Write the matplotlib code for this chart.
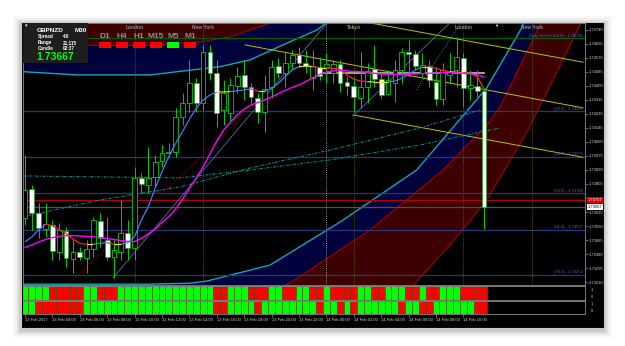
import numpy as np
import matplotlib
matplotlib.use("Agg")
import matplotlib.pyplot as plt
from matplotlib.patches import Rectangle, Polygon
from matplotlib.collections import LineCollection
import matplotlib.transforms as mtransforms

plt.rcParams['font.family'] = ['Liberation Sans', 'DejaVu Sans']

W, H = 625, 346

# ---------------- data (GBPNZD M30) ----------------
bars = np.arange(68)
opens = [1.73599, 1.73775, 1.73629, 1.73532, 1.73556, 1.73392, 1.73520, 1.73350, 1.73392, 1.73356,
         1.73411, 1.73581, 1.73465, 1.73362, 1.73392, 1.73508, 1.73417, 1.73842, 1.73799, 1.73848,
         1.73945, 1.73993, 1.73999, 1.74212, 1.74297, 1.74418, 1.74297, 1.74606, 1.74479, 1.74254,
         1.74236, 1.74400, 1.74467, 1.74394, 1.74327, 1.74242, 1.74394, 1.74521, 1.74479, 1.74540,
         1.74588, 1.74540, 1.74449, 1.74515, 1.74509, 1.74479, 1.74534, 1.74424, 1.74400, 1.74327,
         1.74394, 1.74503, 1.74442, 1.74351, 1.74418, 1.74497, 1.74606, 1.74594, 1.74479, 1.74521,
         1.74424, 1.74321, 1.74467, 1.74497, 1.74570, 1.74388, 1.74400, 1.74370]
highs = [1.73981, 1.73799, 1.73690, 1.73690, 1.73587, 1.73568, 1.73544, 1.73465, 1.73423, 1.73465,
         1.73605, 1.73629, 1.73605, 1.73465, 1.73708, 1.73587, 1.73908, 1.73872, 1.74030, 1.73981,
         1.74042, 1.74054, 1.74266, 1.74358, 1.74558, 1.74449, 1.74649, 1.74649, 1.74558, 1.74436,
         1.74449, 1.74515, 1.74558, 1.74418, 1.74358, 1.74467, 1.74558, 1.74570, 1.74600, 1.74619,
         1.74637, 1.74619, 1.74619, 1.74576, 1.74600, 1.74558, 1.74558, 1.74455, 1.74455, 1.74606,
         1.74540, 1.74649, 1.74479, 1.74497, 1.74558, 1.74631, 1.74679, 1.74619, 1.74600, 1.74558,
         1.74515, 1.74540, 1.74600, 1.74697, 1.74600, 1.74497, 1.74497, 1.74388]
lows = [1.73556, 1.73526, 1.73477, 1.73483, 1.73344, 1.73344, 1.73301, 1.73265, 1.73344, 1.73265,
        1.73362, 1.73423, 1.73344, 1.73235, 1.73344, 1.73344, 1.73344, 1.73751, 1.73751, 1.73787,
        1.73908, 1.73969, 1.73969, 1.74163, 1.74242, 1.74242, 1.74254, 1.74436, 1.74151, 1.74163,
        1.74175, 1.74358, 1.74315, 1.74297, 1.74175, 1.74121, 1.74327, 1.74449, 1.74394, 1.74497,
        1.74515, 1.74479, 1.74376, 1.74436, 1.74418, 1.74418, 1.74364, 1.74345, 1.74242, 1.74266,
        1.74297, 1.74394, 1.74327, 1.74345, 1.74303, 1.74418, 1.74455, 1.74497, 1.74449, 1.74394,
        1.74285, 1.74285, 1.74418, 1.74394, 1.74273, 1.74315, 1.74333, 1.73532]
closes = [1.73769, 1.73629, 1.73538, 1.73562, 1.73398, 1.73526, 1.73356, 1.73392, 1.73362, 1.73411,
          1.73587, 1.73477, 1.73362, 1.73405, 1.73508, 1.73417, 1.73842, 1.73805, 1.73842, 1.73939,
          1.73993, 1.73999, 1.74212, 1.74297, 1.74418, 1.74297, 1.74606, 1.74479, 1.74236, 1.74358,
          1.74406, 1.74461, 1.74394, 1.74333, 1.74242, 1.74382, 1.74515, 1.74479, 1.74540, 1.74588,
          1.74540, 1.74521, 1.74521, 1.74461, 1.74534, 1.74534, 1.74418, 1.74400, 1.74333, 1.74394,
          1.74491, 1.74442, 1.74345, 1.74436, 1.74497, 1.74606, 1.74594, 1.74521, 1.74527, 1.74436,
          1.74321, 1.74497, 1.74485, 1.74576, 1.74388, 1.74406, 1.74370, 1.73667]

fast_ma = [1.73453, 1.73485, 1.73526, 1.73561, 1.73552, 1.73526, 1.73506, 1.73471, 1.73445, 1.73439,
           1.73439, 1.73445, 1.73449, 1.73439, 1.73439, 1.73449, 1.73485, 1.73587, 1.73667, 1.73779,
           1.73880, 1.73971, 1.74052, 1.74123, 1.74198, 1.74265, 1.74315, 1.74345, 1.74362, 1.74364,
           1.74365, 1.74371, 1.74376, 1.74382, 1.74370, 1.74370, 1.74386, 1.74416, 1.74456, 1.74497,
           1.74517, 1.74521, 1.74517, 1.74511, 1.74511, 1.74507, 1.74501, 1.74467, 1.74441, 1.74430,
           1.74426, 1.74424, 1.74424, 1.74424, 1.74430, 1.74447, 1.74471, 1.74497, 1.74517, 1.74517,
           1.74507, 1.74493, 1.74487, 1.74483, 1.74481, 1.74477, 1.74456, 1.74386]
slow_ma = [1.73419, 1.73435, 1.73453, 1.73468, 1.73480, 1.73487, 1.73491, 1.73491, 1.73490, 1.73487,
           1.73484, 1.73480, 1.73474, 1.73468, 1.73462, 1.73456, 1.73456, 1.73474, 1.73502, 1.73532,
           1.73572, 1.73607, 1.73653, 1.73714, 1.73778, 1.73842, 1.73908, 1.73987, 1.74066, 1.74133,
           1.74181, 1.74224, 1.74260, 1.74285, 1.74300, 1.74315, 1.74333, 1.74354, 1.74373, 1.74391,
           1.74406, 1.74427, 1.74449, 1.74470, 1.74485, 1.74491, 1.74493, 1.74491, 1.74488, 1.74487,
           1.74482, 1.74477, 1.74473, 1.74471, 1.74471, 1.74471, 1.74472, 1.74473, 1.74475, 1.74477,
           1.74479, 1.74480, 1.74481, 1.74480, 1.74477, 1.74473, 1.74467, 1.74455]

# trend strip indicators (g = up, r = down)
row1 = list("ggggrrrrrg" "grrrgggggg" "ggggggggrr" "gggrrrggrr" "ggrrgrrrrg" "grrgggrrgr" "rgggrrrr")
row2 = list("ggrrrrrrrg" "gggggggggg" "ggggggggrr" "ggggrggggg" "gggrggrgrg" "gggggrggrr" "ggggggrr")

price_ticks = [1.74740, 1.74655, 1.74570, 1.74485, 1.74400, 1.74315, 1.74230, 1.74145, 1.74060,
               1.73975, 1.73890, 1.73805, 1.73720, 1.73635, 1.73550, 1.73465, 1.73380, 1.73295, 1.73210]
hidden_tick = 1.73720  # covered by the bid/ask tags
time_ticks = [0, 4, 8, 12, 16, 20, 24, 28, 32, 36, 40, 44, 48, 52, 56, 60, 64]
time_labels = ["13 Feb 2017", "13 Feb 04:00", "13 Feb 06:00", "13 Feb 08:00", "13 Feb 10:00",
               "13 Feb 12:00", "13 Feb 14:00", "13 Feb 16:00", "13 Feb 18:00", "13 Feb 20:00",
               "13 Feb 22:00", "14 Feb 00:00", "14 Feb 02:00", "14 Feb 04:00", "14 Feb 06:00",
               "14 Feb 08:00", "14 Feb 10:00"]

session_bars = [16, 26, 48, 64, 74]
session_names = ["London", "New York", "Tokyo", "London", "New York"]
day_separator = 44

fib_names = ["Daily HIGH (100.0)", "(23.6)", "(38.2)", "(50.0)", "(61.8)", "(76.4)"]
fib_prices = [1.74690, 1.74246, 1.73971, 1.73749, 1.73527, 1.73252]
bid, ask = 1.73667, 1.73707
pivot_bars, pivot_price = [43.5, 67], 1.74476

# curved bands (bar index, price)
arc_red_small_x = [-3.65, -0.29, 9.49, 18.25, 25.55, 29.93, 32.85, 36.2, 37.23]
arc_red_small_p = [1.74649, 1.74649, 1.74646, 1.74646, 1.74667, 1.74697, 1.74740, 1.74788, 1.74831]
arc_cyan_small_x = [-3.65, -0.44, 7.59, 18.25, 28.47, 32.85, 37.66, 42.63, 44.23, 44.82]
arc_cyan_small_p = [1.74491, 1.74487, 1.74467, 1.74467, 1.74517, 1.74558, 1.74649, 1.74740, 1.74790, 1.74831]
arc_cyan_big_x = [-3.0, 18.25, 24.09, 26.57, 35.77, 45.99, 57.18, 67.4, 72.51, 73.14]
arc_cyan_big_p = [1.73197, 1.73197, 1.73203, 1.73216, 1.73313, 1.73574, 1.73890, 1.74388, 1.74752, 1.74831]
arc_red1_x = [34.31, 39.12, 50.36, 61.02, 67.4, 69.34, 75.18, 75.91]
arc_red1_p = [1.73101, 1.73216, 1.73526, 1.73890, 1.74163, 1.74273, 1.74770, 1.74831]
arc_red2_x = [55.47, 57.23, 62.04, 67.4, 73.43, 81.02, 81.75]
arc_red2_p = [1.73101, 1.73216, 1.73435, 1.73708, 1.74133, 1.74770, 1.74831]

# straight drawing lines: (x0, x1), (p0, p1)
yellow_lines = [((47.45, 81.46), (1.74805, 1.74544)),
                ((32.12, 81.46), (1.74649, 1.74267)),
                ((47.88, 81.46), (1.74224, 1.73967))]
slate_lines = [((12.85, 44.09), (1.73235, 1.74782)),
               ((47.88, 62.48), (1.74218, 1.74801))]
red_dotted = [((6.57, 34.3), (1.73204, 1.74315))]
teal_steep = [((57.18, 63.94), (1.74376, 1.74801))]
teal_curve1_x = [-0.44, 10.95, 22.63, 32.85, 44.53, 57.66, 69.34]
teal_curve1_p = [1.73854, 1.73848, 1.73842, 1.73890, 1.73951, 1.74042, 1.74145]
teal_curve2_x = [-0.44, 10.95, 22.63, 32.85, 44.53, 57.66, 66.42]
teal_curve2_p = [1.73605, 1.73708, 1.73787, 1.73902, 1.74011, 1.74145, 1.74254]

tf_names = ["D1", "H4", "H1", "M15", "M5", "M1"]
tf_state = ["r", "r", "r", "r", "g", "r"]

# ---------------- figure ----------------
fig = plt.figure(figsize=(W / 100, H / 100), dpi=100)
fig.patch.set_facecolor('white')


def frect(x0, y0, x1, y1):
    return [x0 / W, 1 - y1 / H, (x1 - x0) / W, (y1 - y0) / H]


# soft shadow + terminal window
for d, a in [(8, 0.025), (6, 0.04), (4, 0.06), (2, 0.09)]:
    fig.add_artist(Rectangle(((21 - d) / W, 1 - (330 + d) / H), (583 + 2 * d) / W, (306 + 2 * d) / H,
                             transform=fig.transFigure, facecolor='black', edgecolor='none',
                             alpha=a, zorder=-3))
fig.add_artist(Rectangle((21 / W, 1 - 328 / H), 583 / W, 306 / H, transform=fig.transFigure,
                         facecolor='black', edgecolor='#c8c8c8', lw=0.8, zorder=-2))

ax = fig.add_axes(frect(23, 23, 585, 285))
ax1 = fig.add_axes(frect(23, 286, 585, 300))
ax2 = fig.add_axes(frect(23, 300.5, 585, 314))

xlim = (-0.29, 81.75)
for a in (ax, ax1, ax2):
    a.set_facecolor('black')
    a.set_xlim(*xlim)
    for s in a.spines.values():
        s.set_color('#8a8a8a')
        s.set_linewidth(0.6)
ax.set_ylim(1.73192, 1.74782)

navy, maroon = '#00003c', '#3c0000'
top, below = 1.749, 1.7305
ax.add_patch(Polygon(list(zip(arc_red_small_x, arc_red_small_p)) + [(arc_red_small_x[-1], top), (arc_red_small_x[0], top)],
                     facecolor=maroon, edgecolor='none', zorder=0))
ax.add_patch(Polygon(list(zip(arc_cyan_small_x, arc_cyan_small_p)) + list(zip(arc_red_small_x, arc_red_small_p))[::-1],
                     facecolor=navy, edgecolor='none', zorder=0))
ax.add_patch(Polygon([(arc_cyan_big_x[0], below)] + list(zip(arc_cyan_big_x, arc_cyan_big_p))
                     + list(zip(arc_red1_x, arc_red1_p))[::-1],
                     facecolor=navy, edgecolor='none', zorder=0))
ax.add_patch(Polygon(list(zip(arc_red1_x, arc_red1_p)) + list(zip(arc_red2_x, arc_red2_p))[::-1],
                     facecolor=maroon, edgecolor='none', zorder=0))
for xs, ps in [(arc_red_small_x, arc_red_small_p), (arc_red1_x, arc_red1_p), (arc_red2_x, arc_red2_p)]:
    ax.plot(xs, ps, color='#b00000', lw=0.7, zorder=1)
for xs, ps in [(arc_cyan_small_x, arc_cyan_small_p), (arc_cyan_big_x, arc_cyan_big_p)]:
    ax.plot(xs, ps, color='#10a8b8', lw=1.0, zorder=1)

# horizontal levels
for i, (name, p) in enumerate(zip(fib_names, fib_prices)):
    col = '#006000' if i == 0 else '#28387c'
    ax.axhline(p, color=col, lw=0.9, zorder=1)
    ax.text(81.4, p + 0.00004, f"{name} - {p:.5f}", color='#5566cc', fontsize=3,
            ha='right', va='bottom', zorder=2)
ax.axhline(ask, color='#b40000', lw=0.9, zorder=1)
ax.axhline(bid, color='#505050', lw=0.9, zorder=1)

# session lines
for b, name in zip(session_bars, session_names):
    ax.axvline(b, color='#6b6b00', lw=0.6, ls=(0, (1, 1.5)), zorder=1)
    ax.text(b, 1.74752, name, color='#8c8c8c', fontsize=3.5, fontweight='bold',
            ha='center', va='center', zorder=2)
ax.axvline(day_separator, color='#b8b8b8', lw=0.6, ls=(0, (1, 1.5)), zorder=1)

# drawing lines
for (xs, ps) in yellow_lines:
    ax.plot(xs, ps, color='#c0c000', lw=0.7, zorder=1.5)
for (xs, ps) in slate_lines:
    ax.plot(xs, ps, color='#5a6aa8', lw=0.6, zorder=1.5)
for (xs, ps) in red_dotted:
    ax.plot(xs, ps, color='#a00000', lw=0.7, ls=(0, (1, 1.5)), zorder=1.5)
for (xs, ps) in teal_steep:
    ax.plot(xs, ps, color='#00a0a0', lw=0.7, ls=(0, (1, 1.5)), zorder=1.5)
ax.plot(teal_curve1_x, teal_curve1_p, color='#00a0a0', lw=0.7, ls=(0, (3, 1.5, 1, 1.5)), zorder=1.5)
ax.plot(teal_curve2_x, teal_curve2_p, color='#00a0a0', lw=0.7, ls=(0, (3, 1.5, 1, 1.5)), zorder=1.5)
ax.plot(pivot_bars, [pivot_price, pivot_price], color='#b0b0b0', lw=1.3, zorder=1.6)

# candles
o, h, l, c = map(np.array, (opens, highs, lows, closes))
ax.vlines(bars, l, h, color='#00d000', lw=0.7, zorder=3)
bull = c >= o
body_lo = np.minimum(o, c)
body_h = np.maximum(np.abs(c - o), 0.00003)
ax.bar(bars[bull], body_h[bull], bottom=body_lo[bull], width=0.7, color='black',
       edgecolor='#00d000', lw=0.6, zorder=4)
ax.bar(bars[~bull], body_h[~bull], bottom=body_lo[~bull], width=0.7, color='white',
       edgecolor='#00b000', lw=0.4, zorder=4)

# moving averages
fm = np.array(fast_ma)
segs = [[(bars[i], fm[i]), (bars[i + 1], fm[i + 1])] for i in range(len(bars) - 1)]
seg_cols = []
for i in range(len(bars) - 1):
    dlt = fm[i + 1] - fm[i]
    seg_cols.append('#4a78ff' if dlt > 0.00004 else ('#ff2020' if dlt < -0.00004 else '#e8e800'))
ax.add_collection(LineCollection(segs, colors=seg_cols, linewidths=0.9, zorder=5))
ax.plot(bars, slow_ma, color='#ff00ff', lw=1.0, zorder=5)

# price axis
ax.yaxis.tick_right()
ax.set_yticks(price_ticks)
ax.set_yticklabels(["" if p == hidden_tick else f"{p:.5f}" for p in price_ticks])
ax.tick_params(axis='y', colors='#8a8a8a', labelcolor='#d0d0d0', labelsize=3, length=2, width=0.5, pad=1)
ax.set_xticks([])
trans = mtransforms.blended_transform_factory(ax.transAxes, ax.transData)
ax.text(1.004, ask, f"{ask:.5f}", transform=trans, fontsize=3, color='white', va='center', ha='left',
        bbox=dict(facecolor='#e00000', edgecolor='none', pad=0.5), zorder=10, clip_on=False)
ax.text(1.004, bid - 0.00002, f"{bid:.5f}", transform=trans, fontsize=3, color='black', va='center', ha='left',
        bbox=dict(facecolor='white', edgecolor='none', pad=0.5), zorder=10, clip_on=False)

# trend strips
cmap = {'g': '#00ff00', 'r': '#ff0000'}
for a, row in ((ax1, row1), (ax2, row2)):
    a.bar(bars, 1, width=1.0, bottom=0, color=[cmap[v] for v in row], edgecolor='#5a5000', lw=0.4)
    a.set_ylim(0, 1)
    a.set_yticks([])
    a.text(1.01, 0.72, "1", transform=a.transAxes, fontsize=3, color='#d0d0d0', va='center')
    a.text(1.01, 0.24, "0", transform=a.transAxes, fontsize=3, color='#d0d0d0', va='center')
ax1.set_xticks([])
ax2.set_xticks(time_ticks)
ax2.set_xticklabels(time_labels, ha='left')
ax2.tick_params(axis='x', colors='#8a8a8a', labelcolor='#d0d0d0', labelsize=3, length=2, width=0.5, pad=1)

# info panel
fig.add_artist(Rectangle((23 / W, 1 - 63 / H), 65 / W, 40 / H, transform=fig.transFigure,
                         facecolor='#1e1e1e', edgecolor='none', zorder=6))
def ftext(x, y, s, **kw):
    fig.text(x / W, 1 - y / H, s, zorder=7, **kw)
ftext(25, 26, "\u25be", color='white', fontsize=3.5, va='center')
ftext(36.5, 30, "GBPNZD", color='white', fontsize=4.6, fontweight='bold', va='center')
ftext(75, 30, "M30", color='white', fontsize=4.6, fontweight='bold', va='center')
for yy, k, v in [(36.7, "Spread", "4.0"), (42.6, "Range", "21,115"), (48.3, "Candle", "02:37")]:
    ftext(38, yy, k, color='white', fontsize=3.3, fontweight='bold', va='center')
    ftext(63, yy, v, color='white', fontsize=3.3, fontweight='bold', va='center')
ftext(36.5, 57.5, f"{bid:.5f}", color='#00ff00', fontsize=7.5, fontweight='bold', va='center')

# timeframe boxes
for k, (name, st) in enumerate(zip(tf_names, tf_state)):
    x0 = 99.3 + k * 17.0
    ftext(x0 + 5.6, 36.7, name, color='#8c8c8c', fontsize=6, fontweight='bold', va='center', ha='center')
    fig.add_artist(Rectangle((x0 / W, 1 - 47.7 / H), 11.5 / W, 6 / H, transform=fig.transFigure,
                             facecolor=cmap[st], edgecolor='none', zorder=6))
ftext(496, 25.5, "\u25bc", color='white', fontsize=3, va='center', ha='center')

fig.savefig("out.png", dpi=100, facecolor='white')
